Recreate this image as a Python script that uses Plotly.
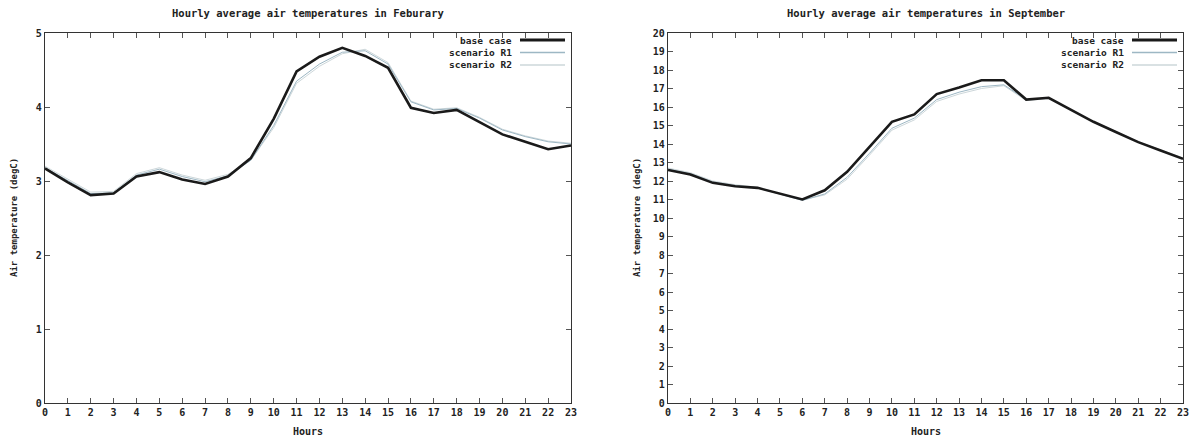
import plotly.graph_objects as go

hours = list(range(24))
x_ticks = list(range(24))

feb_base = [3.17, 2.98, 2.81, 2.83, 3.06, 3.12, 3.02, 2.96, 3.06, 3.31, 3.84, 4.48, 4.68, 4.80, 4.69, 4.53, 3.99, 3.92, 3.96, 3.80, 3.63, 3.53, 3.43, 3.48]
feb_r1 = [3.18, 3.00, 2.83, 2.84, 3.08, 3.16, 3.06, 2.99, 3.07, 3.28, 3.75, 4.35, 4.58, 4.74, 4.76, 4.58, 4.07, 3.96, 3.98, 3.85, 3.69, 3.60, 3.53, 3.50]
feb_r2 = [3.20, 3.02, 2.85, 2.86, 3.10, 3.18, 3.08, 3.01, 3.09, 3.28, 3.72, 4.32, 4.55, 4.72, 4.78, 4.60, 4.08, 3.97, 3.99, 3.86, 3.70, 3.61, 3.54, 3.51]

sep_base = [12.6, 12.35, 11.9, 11.72, 11.63, 11.3, 11.0, 11.5, 12.5, 13.85, 15.2, 15.6, 16.7, 17.05, 17.45, 17.45, 16.4, 16.5, 15.85, 15.2, 14.65, 14.1, 13.65, 13.2]
sep_r1 = [12.65, 12.4, 11.95, 11.75, 11.63, 11.3, 10.95, 11.3, 12.2, 13.5, 14.85, 15.4, 16.4, 16.8, 17.1, 17.2, 16.4, 16.5, 15.85, 15.2, 14.65, 14.1, 13.65, 13.2]
sep_r2 = [12.7, 12.45, 12.0, 11.8, 11.66, 11.32, 10.97, 11.25, 12.1, 13.4, 14.75, 15.3, 16.3, 16.7, 17.0, 17.15, 16.35, 16.45, 15.85, 15.22, 14.68, 14.12, 13.68, 13.25]

series_names = ["base case", "scenario R1", "scenario R2"]
titles = ["Hourly average air temperatures in Feburary", "Hourly average air temperatures in September"]
y_title = "Air temperature (degC)"
x_title = "Hours"

W, H = 1197, 439
colors = ["#1a1a1a", "#9db7c4", "#cdd7da"]
widths = [2.6, 1.0, 1.0]
FONT = "DejaVu Sans Mono"
TXT = "#222222"

fig = go.Figure()

def px_x(p):
    return p / W

def px_y(p):
    return 1 - p / H

panels = [
    dict(data=[feb_base, feb_r1, feb_r2], left=45, right=571, ymax=5),
    dict(data=[sep_base, sep_r1, sep_r2], left=668, right=1183, ymax=20),
]
top, bottom = 33, 403

for pi, p in enumerate(panels):
    suffix = "" if pi == 0 else "2"
    for si in [2, 1, 0]:
        fig.add_trace(go.Scatter(
            x=hours, y=p["data"][si], mode="lines", name=series_names[si],
            line=dict(color=colors[si], width=widths[si]),
            xaxis="x" + suffix, yaxis="y" + suffix, showlegend=False,
        ))
    axis_common = dict(
        showline=True, linecolor="#333333", linewidth=1.2, mirror="ticks",
        ticks="inside", ticklen=5, tickcolor="#555555", showgrid=False, zeroline=False,
        automargin=False,
        tickfont=dict(family=FONT, size=10, color=TXT, weight="bold"),
    )
    fig.update_layout(**{
        "xaxis" + suffix: dict(
            domain=[px_x(p["left"]), px_x(p["right"])], range=[0, 23],
            tickmode="array", tickvals=x_ticks, ticktext=[str(v) for v in x_ticks],
            anchor="y" + suffix, **axis_common,
        ),
        "yaxis" + suffix: dict(
            domain=[px_y(bottom), px_y(top)], range=[0, p["ymax"]], dtick=1,
            anchor="x" + suffix, **axis_common,
        ),
    })
    cx = (p["left"] + p["right"]) / 2
    fig.add_annotation(text=titles[pi], x=px_x(cx), y=px_y(13), xref="paper", yref="paper",
                       xanchor="center", yanchor="middle", showarrow=False,
                       font=dict(family=FONT, size=10.5, color=TXT, weight="bold"))
    fig.add_annotation(text=x_title, x=px_x(cx), y=px_y(431), xref="paper", yref="paper",
                       xanchor="center", yanchor="middle", showarrow=False,
                       font=dict(family=FONT, size=10, color=TXT, weight="bold"))
    fig.add_annotation(text=y_title, x=px_x(p["left"] - 31), y=px_y((top + bottom) / 2),
                       xref="paper", yref="paper", textangle=-90, xanchor="center", yanchor="middle",
                       showarrow=False, font=dict(family=FONT, size=9, color=TXT, weight="bold"))
    for si in range(3):
        ly = 40 + si * 12.5
        fig.add_annotation(text=series_names[si], x=px_x(p["right"] - 57), y=px_y(ly),
                           xref="paper", yref="paper", xanchor="right", yanchor="middle", showarrow=False,
                           font=dict(family=FONT, size=9.5, color=TXT, weight="bold"))
        fig.add_shape(type="line", xref="paper", yref="paper",
                      x0=px_x(p["right"] - 51), x1=px_x(p["right"] - 6), y0=px_y(ly), y1=px_y(ly),
                      line=dict(color=colors[si], width=widths[si] + (0.4 if si == 0 else 0.5)))

fig.update_layout(
    width=W, height=H, margin=dict(l=0, r=0, t=0, b=0),
    paper_bgcolor="white", plot_bgcolor="white", showlegend=False,
)

fig.write_html("out.html", config={"displayModeBar": False},
               post_script="document.body.style.margin='0';document.body.style.overflow='hidden';")
